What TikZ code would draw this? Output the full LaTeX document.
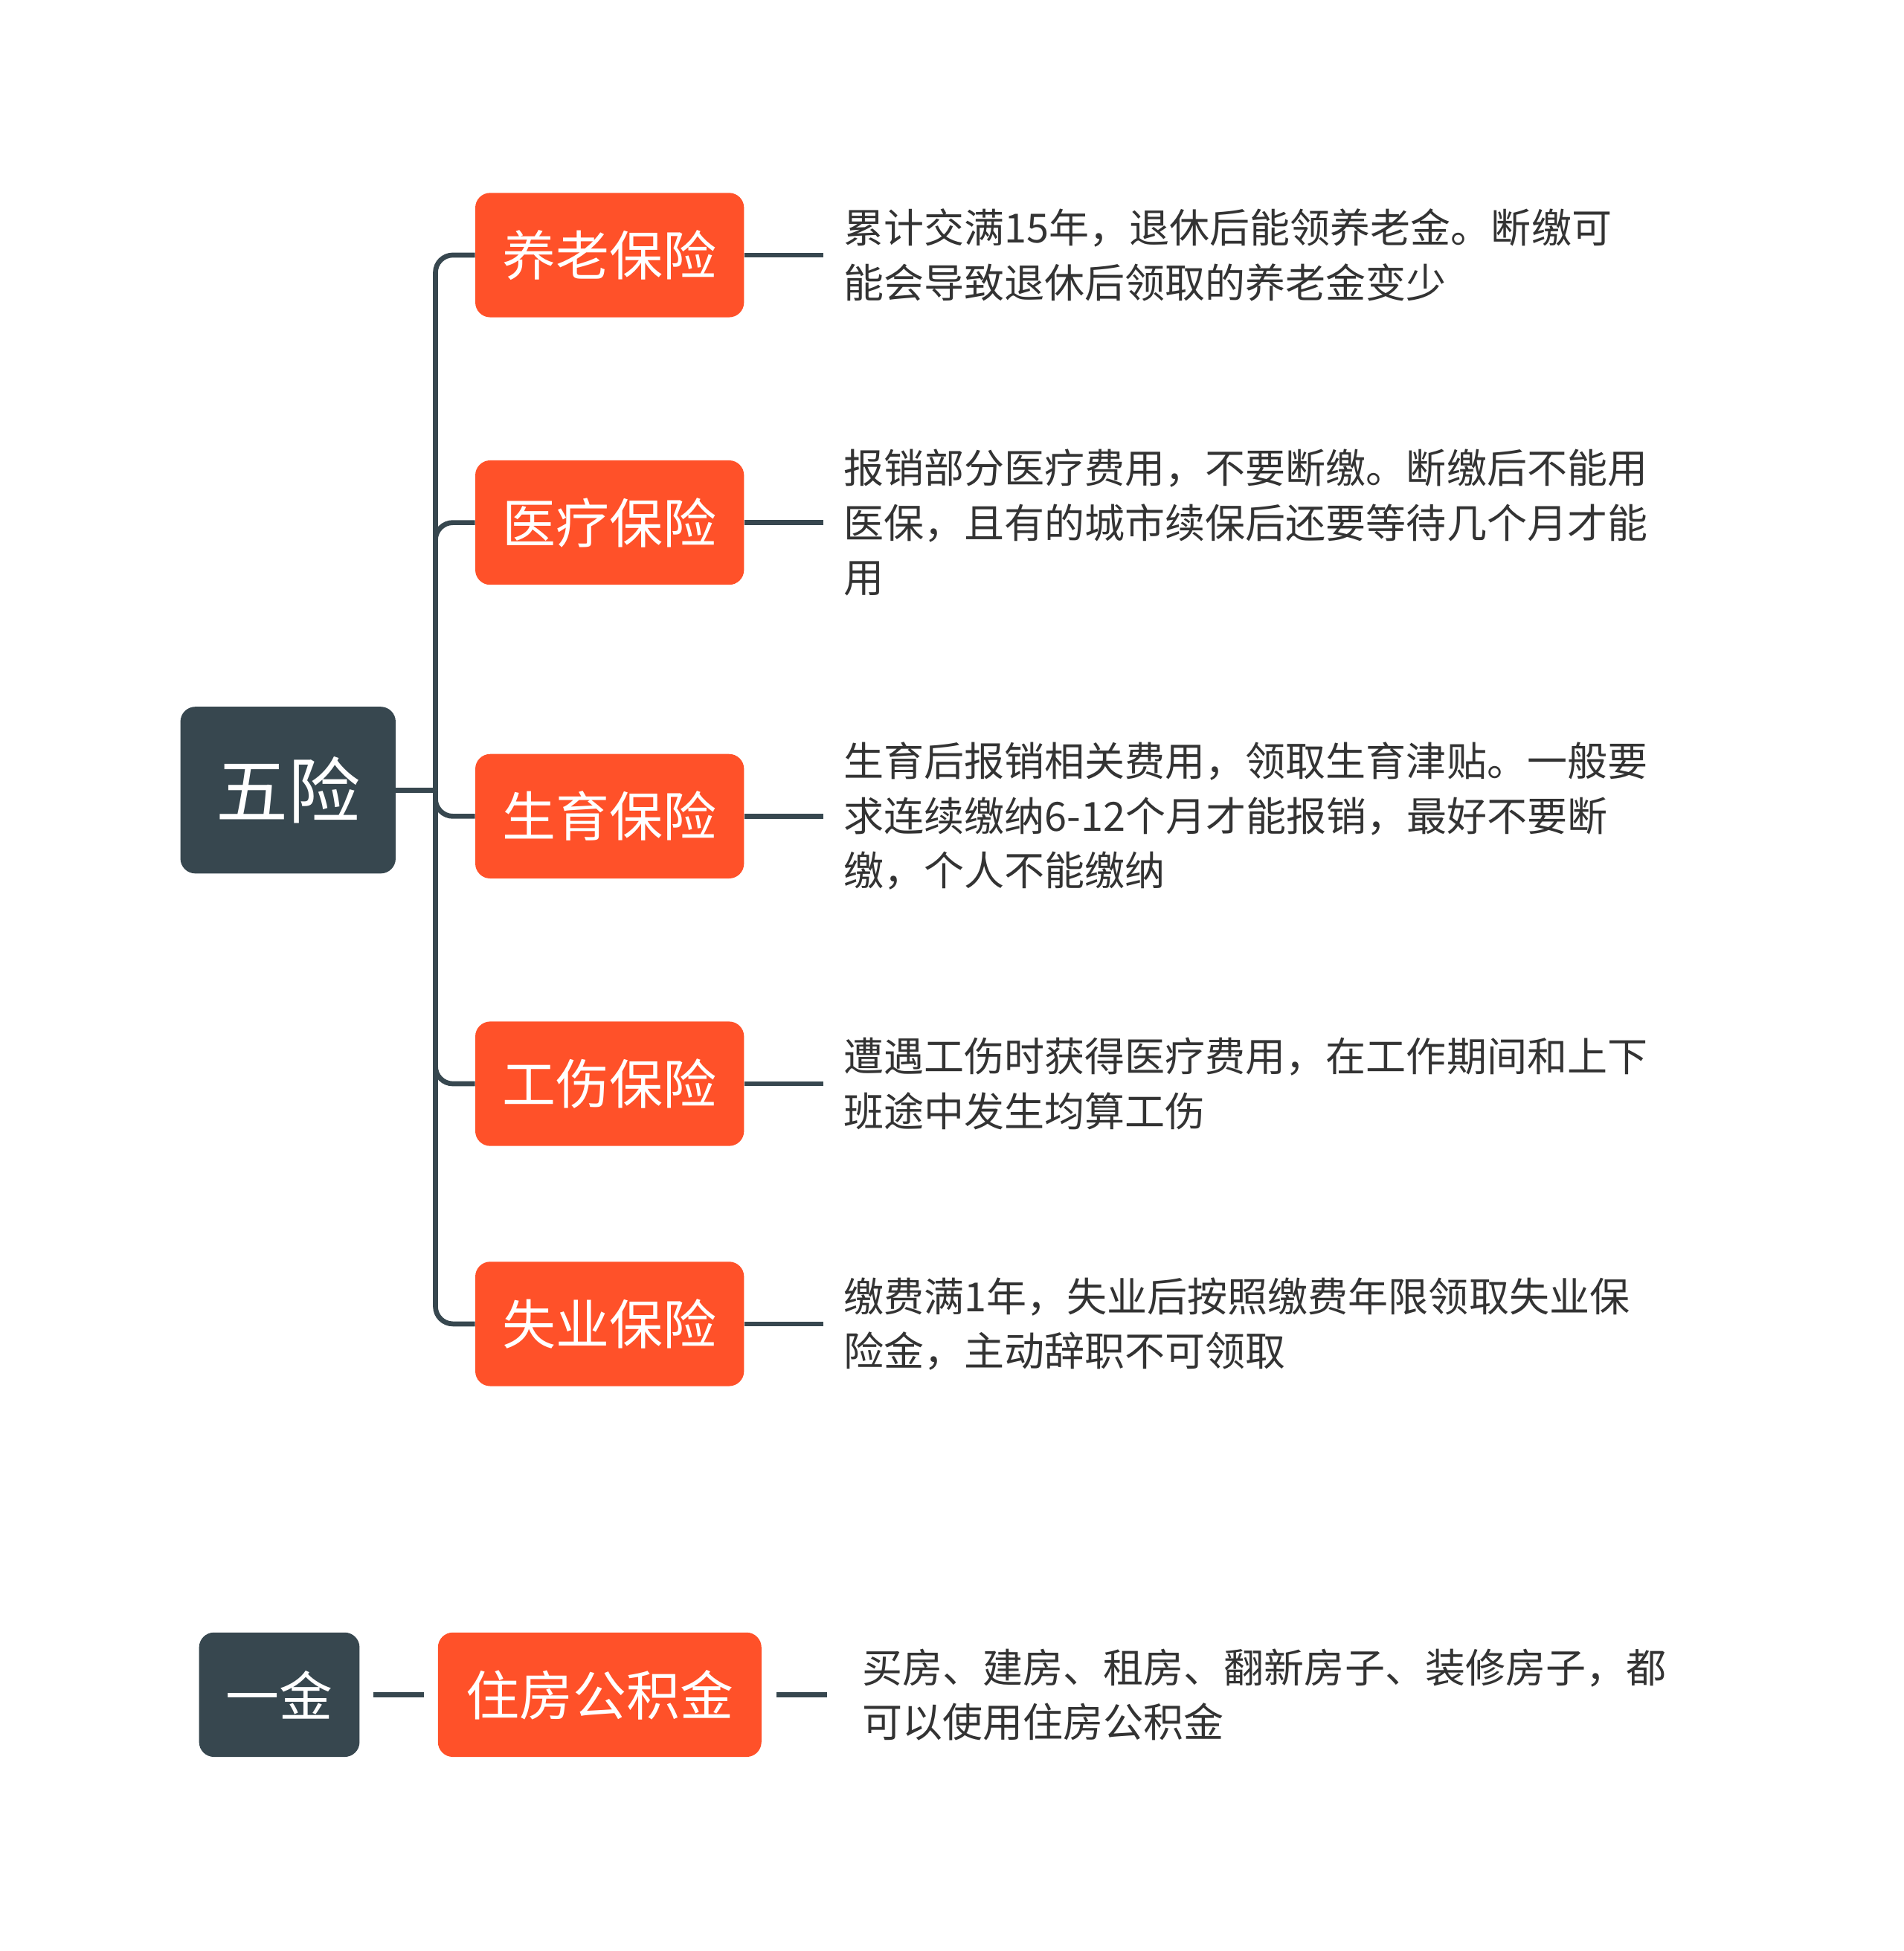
\documentclass[tikz,border=0pt]{standalone}
\usepackage{fontspec}
\setmainfont{Noto Sans CJK SC}
\usetikzlibrary{positioning}
\definecolor{rootc}{HTML}{37474F}
\definecolor{leafc}{HTML}{FF5129}
\definecolor{linec}{HTML}{37474F}
\definecolor{textc}{HTML}{333333}
\begin{document}
\begin{tikzpicture}[
    x=1pt, y=-1pt,
    rootbox/.style={
        fill = rootc,
        text = white,
        rounded corners = 12pt,
        minimum height = 134pt,
        minimum width = 173pt,
        font = \fontsize{58}{64}\selectfont
    },
    leafbox/.style={
        fill = leafc,
        text = white,
        rounded corners = 12pt,
        minimum height = 100pt,
        minimum width = 216pt,
        font = \fontsize{43}{48}\selectfont
    },
    note/.style={
        anchor = west,
        align = left,
        text = textc,
        inner sep = 0pt,
        font = \fontsize{32.3}{44}\selectfont
    },
    conn/.style={
        draw = linec,
        line width = 4pt
    }
]
\useasboundingbox (0,0) rectangle (1530,1568);

% five insurances
\node[rootbox] (wx) at (231.5,635) {五险};
\coordinate (hub) at (350,635);
\node[leafbox] (yl) at (490,205) {养老保险};
\node[leafbox] (ylj) at (490,420) {医疗保险};
\node[leafbox] (sy) at (490,656) {生育保险};
\node[leafbox] (gs) at (490,871) {工伤保险};
\node[leafbox] (syb) at (490,1064) {失业保险};

\node[note] (tyl) at (678,205) {累计交满15年，退休后能领养老金。断缴可\\能会导致退休后领取的养老金变少};
\node[note] (tylj) at (678,420) {报销部分医疗费用，不要断缴。断缴后不能用\\医保，且有的城市续保后还要等待几个月才能\\用};
\node[note] (tsy) at (678,656) {生育后报销相关费用，领取生育津贴。一般要\\求连续缴纳6-12个月才能报销，最好不要断\\缴，个人不能缴纳};
\node[note] (tgs) at (678,871) {遭遇工伤时获得医疗费用，在工作期间和上下\\班途中发生均算工伤};
\node[note] (tsyb) at (678,1064) {缴费满1年，失业后按照缴费年限领取失业保\\险金，主动辞职不可领取};

\draw[conn] (wx.east) -- (hub);
\foreach \c in {yl,ylj,sy,gs,syb}
    \draw[conn, rounded corners=14pt] (hub) |- (\c.west);
\foreach \c in {yl,ylj,sy,gs,syb}
    \draw[conn] (\c.east) -- ([xshift=-16pt]t\c.west);

% one fund
\node[rootbox, minimum width=129pt, minimum height=100pt,
      font=\fontsize{43}{48}\selectfont] (yj) at (224.5,1362) {一金};
\node[leafbox, minimum width=260pt] (zf) at (482,1362) {住房公积金};
\node[note] (tzf) at (693,1362) {买房、建房、租房、翻新房子、装修房子，都\\可以使用住房公积金};
\draw[conn] ([xshift=11pt]yj.east) -- ([xshift=-11pt]zf.west);
\draw[conn] ([xshift=12pt]zf.east) -- ([xshift=-28pt]tzf.west);
\end{tikzpicture}
\end{document}
